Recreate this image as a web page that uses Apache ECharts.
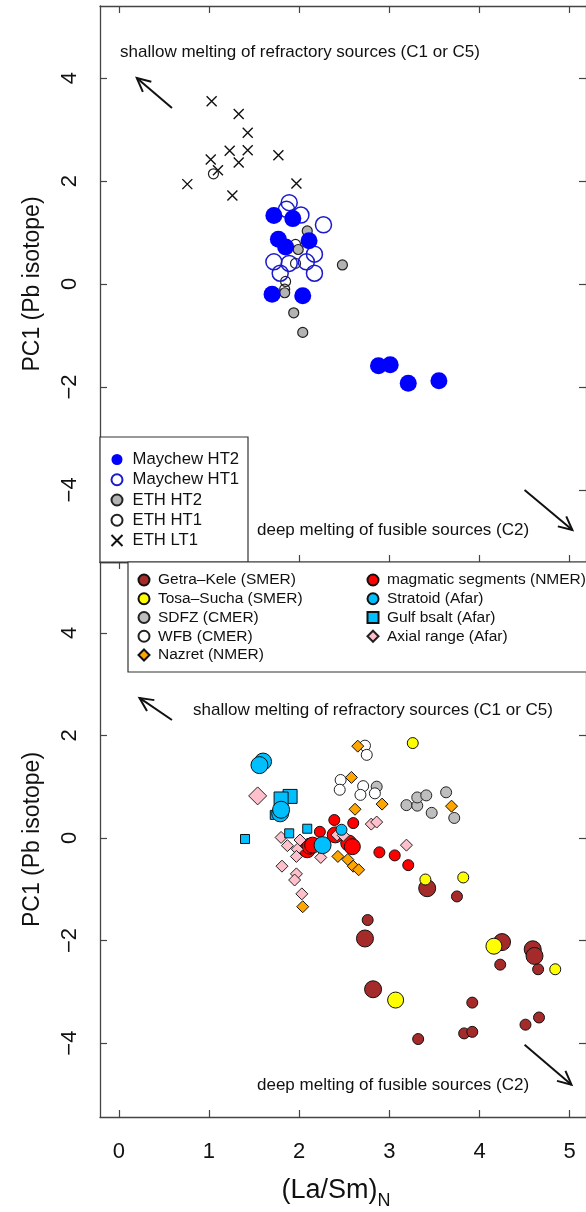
<!DOCTYPE html>
<html><head><meta charset="utf-8">
<script src="https://cdn.jsdelivr.net/npm/echarts@6/dist/echarts.min.js"></script>
<style>html,body{margin:0;padding:0;background:#fff}#c{width:586px;height:1212px}</style>
</head><body><div id="c"></div>
<script>
// ---------- data: top panel (Maychew / ETH) ----------
const maychewHT2 = [[1.72,1.33],[1.93,1.27],[1.77,0.87],[1.85,0.72],[2.11,0.84],[1.70,-0.20],[2.04,-0.23],[2.88,-1.59],[3.01,-1.57],[3.21,-1.93],[3.55,-1.88]];
const maychewHT1 = [[1.89,1.58],[1.86,1.45],[2.02,1.34],[2.27,1.15],[2.17,0.58],[2.08,0.43],[1.72,0.43],[1.89,0.40],[1.79,0.21],[2.17,0.21]];
const ethHT2 = [[2.09,1.03],[1.99,0.67],[2.48,0.37],[1.84,-0.17],[1.94,-0.56],[2.04,-0.94]];
const ethHT1 = [[1.05,2.14],[1.96,0.77],[1.96,0.40],[1.85,0.05],[1.84,-0.10]];
const ethLT1 = [[1.03,3.55],[1.33,3.30],[1.43,2.94],[1.23,2.59],[1.43,2.60],[1.77,2.50],[1.02,2.42],[1.33,2.36],[1.10,2.21],[0.76,1.94],[1.97,1.95],[1.26,1.72]];

// ---------- data: bottom panel (large = big symbols, small = small symbols) ----------
const getraKeleLarge = [[3.42,-0.98],[2.73,-1.96],[4.25,-2.03],[4.59,-2.17],[4.61,-2.30],[2.82,-2.95]];
const getraKeleSmall = [[2.76,-1.60],[3.75,-1.14],[4.23,-2.47],[4.65,-2.56],[3.92,-3.21],[4.66,-3.50],[4.51,-3.64],[3.83,-3.81],[3.92,-3.78],[3.32,-3.92]];
const tosaSuchaLarge = [[4.16,-2.11],[3.07,-3.16]];
const tosaSuchaSmall = [[3.26,1.85],[3.40,-0.81],[3.82,-0.77],[4.84,-2.56]];
const sdfz = [[2.86,1.00],[3.19,0.64],[3.31,0.63],[3.31,0.79],[3.41,0.83],[3.47,0.49],[3.63,0.89],[3.72,0.39]];
const wfb = [[2.73,1.80],[2.75,1.62],[2.46,1.13],[2.45,0.94],[2.71,1.01],[2.68,0.84],[2.84,0.87]];
const nazret = [[2.65,1.79],[2.58,1.18],[2.92,0.66],[2.62,0.56],[2.43,-0.36],[2.54,-0.42],[2.60,-0.55],[2.66,-0.62],[2.04,-1.34],[3.69,0.62]];
const magmaticLarge = [[2.09,-0.23],[2.12,-0.16],[2.40,0.06],[2.55,-0.10],[2.59,-0.17],[2.15,-0.14]];
const magmaticSmall = [[2.39,0.35],[2.60,0.29],[2.23,0.12],[2.89,-0.28],[3.06,-0.34],[3.21,-0.53],[2.06,-0.23]];
const stratoidLarge = [[1.60,1.49],[1.56,1.42],[1.79,0.48],[1.80,0.55],[2.26,-0.14]];
const stratoidSmall = [[2.47,0.16]];
const gulfLarge = [[1.90,0.81],[1.80,0.76]];
const gulfSmall = [[1.40,-0.02],[1.73,0.45],[1.89,0.09],[2.09,0.18]];
const axialLarge = [[1.54,0.82]];
const axialSmall = [[1.80,0.01],[1.87,-0.15],[2.01,-0.04],[1.98,-0.22],[1.97,-0.36],[1.81,-0.55],[1.97,-0.70],[1.95,-0.82],[2.03,-1.09],[2.24,-0.38],[2.42,0.06],[2.49,0.05],[2.80,0.27],[2.86,0.31],[3.19,-0.14]];

// ---------- ticks ----------
const xTicks = [0,1,2,3,4,5];
const yTicks = [-4,-2,0,2,4];

// ---------- annotation arrows [x1,y1,x2,y2] (tail -> head) ----------
const arrowsTop = [[0.59,3.42,0.20,4.00],[4.50,-4.00,5.03,-4.78]];
const arrowsBottom = [[0.59,2.30,0.23,2.73],[4.50,-4.03,5.02,-4.81]];

const FONT = '"Liberation Sans", Arial, Helvetica, sans-serif';
const AX = '#444';
const minus = v => String(v).replace('-', '\u2212');

function xAxis(grid, pos, labels) {
  return {
    type:'value', gridIndex:grid, position:pos, min:-0.208, max:5.181,
    axisLine:{show:true, onZero:false, lineStyle:{color:AX, width:1.3}},
    axisTick:{show:true, inside:true, length:7, lineStyle:{color:AX, width:1.2}, customValues:xTicks},
    axisLabel:{show:labels, customValues:xTicks, fontSize:22, color:'#111', margin:24, fontFamily:FONT},
    splitLine:{show:false}
  };
}
function yAxis(grid, pos, labels, min, max) {
  return {
    type:'value', gridIndex:grid, position:pos, min:min, max:max,
    axisLine:{show:true, onZero:false, lineStyle:{color:AX, width:1.3}},
    axisTick:{show:true, inside:true, length:7, lineStyle:{color:AX, width:1.2}, customValues:yTicks},
    axisLabel:{show:labels, customValues:yTicks, rotate:90, fontSize:22, color:'#111', margin:19, fontFamily:FONT, formatter:minus},
    splitLine:{show:false},
    name: labels ? 'PC1 (Pb isotope)' : '',
    nameLocation:'middle', nameRotate:90, nameGap:56,
    nameTextStyle:{fontSize:23, color:'#111', fontFamily:FONT}
  };
}

const xAxes = [xAxis(0,'bottom',false), xAxis(0,'top',false), xAxis(1,'bottom',true), xAxis(1,'top',false)];
xAxes[2].name = '{a|(La/Sm)}{s|N}';
xAxes[2].nameLocation = 'middle';
xAxes[2].nameGap = 55;
xAxes[2].nameTextStyle = {fontFamily:FONT, color:'#111', padding:[0,14,0,0],
  rich:{a:{fontSize:27, fontFamily:FONT, color:'#111', lineHeight:32, verticalAlign:'bottom'},
        s:{fontSize:18, fontFamily:FONT, color:'#111', lineHeight:22, verticalAlign:'bottom', padding:[0,0,-6,0]}}};

const yAxes = [yAxis(0,'left',true,-5.4,5.4), yAxis(0,'right',false,-5.4,5.4), yAxis(1,'left',true,-5.44,5.38), yAxis(1,'right',false,-5.44,5.38)];

function sc(name, data, panel, symbol, size, fill, stroke, bw, z) {
  return {
    type:'scatter', name:name, data:data,
    xAxisIndex: panel===0 ? 0 : 2, yAxisIndex: panel===0 ? 0 : 2,
    symbol:symbol, symbolSize:size, z:z||2,
    itemStyle:{color:fill, borderColor:stroke, borderWidth:bw, opacity:1},
    emphasis:{disabled:true}
  };
}

function arrowSeries(data, panel) {
  return {
    type:'custom', data:data, xAxisIndex: panel===0 ? 0 : 2, yAxisIndex: panel===0 ? 0 : 2,
    encode:{x:[0,2], y:[1,3]}, silent:true, z:5, clip:false,
    renderItem:function(params, api){
      const p1 = api.coord([api.value(0), api.value(1)]);
      const p2 = api.coord([api.value(2), api.value(3)]);
      const ang = Math.atan2(p2[1]-p1[1], p2[0]-p1[0]);
      const L = 15, A = 0.45;
      const h1 = [p2[0]-L*Math.cos(ang-A), p2[1]-L*Math.sin(ang-A)];
      const h2 = [p2[0]-L*Math.cos(ang+A), p2[1]-L*Math.sin(ang+A)];
      const st = {stroke:'#111', lineWidth:2, fill:null};
      return {type:'group', children:[
        {type:'line', shape:{x1:p1[0],y1:p1[1],x2:p2[0],y2:p2[1]}, style:st},
        {type:'polyline', shape:{points:[h1,p2,h2]}, style:st}
      ]};
    }
  };
}

const crossPath = 'path://M0,0L10,10M10,0L0,10';
const brown = '#a52a2a', sky = '#00bfff';

const series = [
  // top panel
  sc('ETH LT1', ethLT1, 0, crossPath, 10, 'rgba(0,0,0,0)', '#111', 1.4),
  sc('ETH HT1', ethHT1, 0, 'circle', 10, 'rgba(0,0,0,0)', '#222', 1.2),
  sc('ETH HT2', ethHT2, 0, 'circle', 10, '#b3b3b3', '#222', 1.2),
  sc('Maychew HT1', maychewHT1, 0, 'circle', 16, 'rgba(0,0,0,0)', '#1a1acc', 1.5),
  sc('Maychew HT2', maychewHT2, 0, 'circle', 17, '#0000ff', '#0000ff', 0),
  // bottom panel
  sc('Getra\u2013Kele (SMER)', getraKeleSmall, 1, 'circle', 11, brown, '#111', 1),
  sc('Getra\u2013Kele (SMER)', getraKeleLarge, 1, 'circle', 17, brown, '#111', 1),
  sc('Tosa\u2013Sucha (SMER)', tosaSuchaSmall, 1, 'circle', 11, '#ffff00', '#111', 1),
  sc('Tosa\u2013Sucha (SMER)', tosaSuchaLarge, 1, 'circle', 16, '#ffff00', '#111', 1),
  sc('SDFZ (CMER)', sdfz, 1, 'circle', 11, '#bebebe', '#222', 1),
  sc('WFB (CMER)', wfb, 1, 'circle', 11, '#ffffff', '#222', 1),
  sc('magmatic segments (NMER)', magmaticSmall, 1, 'circle', 11, '#ff0000', '#111', 1),
  sc('magmatic segments (NMER)', magmaticLarge, 1, 'circle', 16, '#ff0000', '#111', 1),
  sc('Nazret (NMER)', nazret, 1, 'diamond', 12, '#ffa500', '#111', 1),
  sc('Axial range (Afar)', axialSmall, 1, 'diamond', 12, '#ffc0cb', '#222', 1),
  sc('Axial range (Afar)', axialLarge, 1, 'diamond', 18, '#ffc0cb', '#222', 1),
  sc('Gulf bsalt (Afar)', gulfSmall, 1, 'rect', 9, sky, '#111', 1),
  sc('Gulf bsalt (Afar)', gulfLarge, 1, 'rect', 14, sky, '#111', 1),
  sc('Stratoid (Afar)', stratoidSmall, 1, 'circle', 11, sky, '#111', 1),
  sc('Stratoid (Afar)', stratoidLarge, 1, 'circle', 17, sky, '#111', 1),
  arrowSeries(arrowsTop, 0),
  arrowSeries(arrowsBottom, 1)
];

function legend(names, left, top, fs, lh, gap, pad) {
  return {
    data:names, orient:'vertical', left:left, top:top, padding:0, itemGap:gap,
    itemWidth:11, itemHeight:11, selectedMode:false, z:10,
    textStyle:{fontSize:fs, lineHeight:lh, color:'#111', fontFamily:FONT, padding:[0,0,0,pad]}
  };
}

const txt = (x, y, s) => ({type:'text', x:x, y:y, z:6, style:{text:s, fill:'#111', font:'17px ' + FONT, align:'left', verticalAlign:'middle'}});

const option = {
  animation:false,
  textStyle:{fontFamily:FONT},
  grid:[
    {left:100, top:6, width:492, height:556},
    {left:100, top:562, width:492, height:555}
  ],
  xAxis:xAxes,
  yAxis:yAxes,
  legend:[
    legend(['Maychew HT2','Maychew HT1','ETH HT2','ETH HT1','ETH LT1'], 110.5, 449.5, 16.7, 20, 0.25, 5),
    legend(['Getra\u2013Kele (SMER)','Tosa\u2013Sucha (SMER)','SDFZ (CMER)','WFB (CMER)','Nazret (NMER)'], 137.5, 571, 15.5, 18, 0.75, 3.5),
    legend(['magmatic segments (NMER)','Stratoid (Afar)','Gulf bsalt (Afar)','Axial range (Afar)'], 366.5, 571, 15.5, 18, 0.75, 3.5)
  ],
  graphic:[
    {type:'rect', z:8, shape:{x:100, y:437, width:148, height:125}, style:{fill:'#fff', stroke:'#333', lineWidth:1.2}},
    {type:'rect', z:8, shape:{x:128, y:562, width:470, height:110}, style:{fill:'#fff', stroke:'#333', lineWidth:1.2}},
    txt(120, 52, 'shallow melting of refractory sources (C1 or C5)'),
    txt(257, 530, 'deep melting of fusible sources (C2)'),
    txt(193, 710, 'shallow melting of refractory sources (C1 or C5)'),
    txt(257, 1085, 'deep melting of fusible sources (C2)')
  ],
  series:series
};

const chart = echarts.init(document.getElementById('c'), null, {renderer:'canvas'});
chart.setOption(option);
</script>
</body></html>
